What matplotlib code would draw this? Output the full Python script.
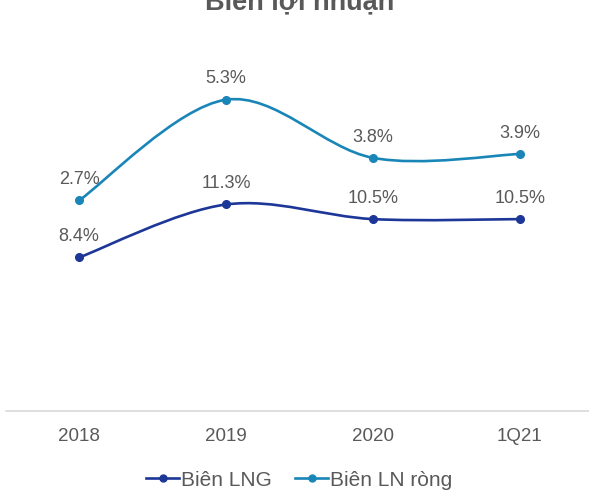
import numpy as np
import matplotlib.pyplot as plt
from matplotlib.path import Path
from matplotlib.patches import PathPatch
from matplotlib.lines import Line2D

plt.rcParams['font.family'] = ['Liberation Sans', 'DejaVu Sans']

# Data
categories = ['2018', '2019', '2020', '1Q21']
bien_lng = [8.4, 11.3, 10.5, 10.5]
bien_ln_rong = [2.7, 5.3, 3.8, 3.9]

c_lng = '#1c3797'
c_rong = '#1a86b8'
c_text = '#595959'


# Excel-style smoothed line: cubic Bezier through the data points
def smooth_path(xs, ys):
    xs = np.asarray(xs, float)
    ys = np.asarray(ys, float)
    n = len(xs)
    verts = [(xs[0], ys[0])]
    codes = [Path.MOVETO]
    for i in range(n - 1):
        p0 = np.array([xs[max(i - 1, 0)], ys[max(i - 1, 0)]])
        p1 = np.array([xs[i], ys[i]])
        p2 = np.array([xs[i + 1], ys[i + 1]])
        p3 = np.array([xs[min(i + 2, n - 1)], ys[min(i + 2, n - 1)]])
        c1 = p1 + (p2 - p0) / 6.0
        c2 = p2 - (p3 - p1) / 6.0
        verts += [tuple(c1), tuple(c2), tuple(p2)]
        codes += [Path.CURVE4] * 3
    return Path(verts, codes)


fig = plt.figure(figsize=(5.89, 4.93), dpi=100)
ax = fig.add_axes([5.5 / 589, 82 / 493, 588 / 589, 371 / 493])
ax2 = ax.twinx()

x = np.arange(len(categories))

# Primary axis: Biên LNG
ax.add_patch(PathPatch(smooth_path(x, bien_lng), fill=False,
                       edgecolor=c_lng, lw=1.9, capstyle='round'))
ax.plot(x, bien_lng, 'o', color=c_lng, ms=5.5)
for xi, v in zip(x, bien_lng):
    ax.annotate(f'{v:.1f}%', (xi, v), xytext=(0, 15), textcoords='offset points',
                ha='center', va='center', fontsize=13, color=c_text)

# Secondary axis: Biên LN ròng
ax2.add_patch(PathPatch(smooth_path(x, bien_ln_rong), fill=False,
                        edgecolor=c_rong, lw=1.9, capstyle='round'))
ax2.plot(x, bien_ln_rong, 'o', color=c_rong, ms=5.5)
for xi, v in zip(x, bien_ln_rong):
    ax2.annotate(f'{v:.1f}%', (xi, v), xytext=(0, 15), textcoords='offset points',
                 ha='center', va='center', fontsize=13, color=c_text)

ax.set_xlim(-0.5, len(categories) - 0.5)
ax.set_ylim(0, 20.3)
ax2.set_ylim(-2.73, 6.84)

ax.set_xticks(x)
ax.set_xticklabels(categories, fontsize=13.5, color=c_text)
ax.tick_params(axis='x', length=0, pad=12.5)
ax.set_yticks([])
ax2.set_yticks([])
for a in (ax, ax2):
    for s in ['top', 'left', 'right']:
        a.spines[s].set_visible(False)
ax.spines['bottom'].set_color('#d9d9d9')
ax.spines['bottom'].set_linewidth(1.2)
ax2.spines['bottom'].set_visible(False)

# Title (partly cut off at the top, as in the source)
fig.text(0.508, 484 / 493, 'Biên lợi nhuận', ha='center', va='baseline',
         fontsize=19.5, fontweight='bold', color=c_text)

handles = [Line2D([], [], color=c_lng, lw=1.9, marker='o', ms=5),
           Line2D([], [], color=c_rong, lw=1.9, marker='o', ms=5)]
fig.legend(handles, ['Biên LNG', 'Biên LN ròng'], loc='center',
           bbox_to_anchor=(0.508, 13 / 493), ncol=2, frameon=False,
           fontsize=15, handlelength=1.6, handletextpad=0.1,
           columnspacing=1.1, labelcolor=c_text, borderpad=0)

fig.savefig('out.png', dpi=100)
